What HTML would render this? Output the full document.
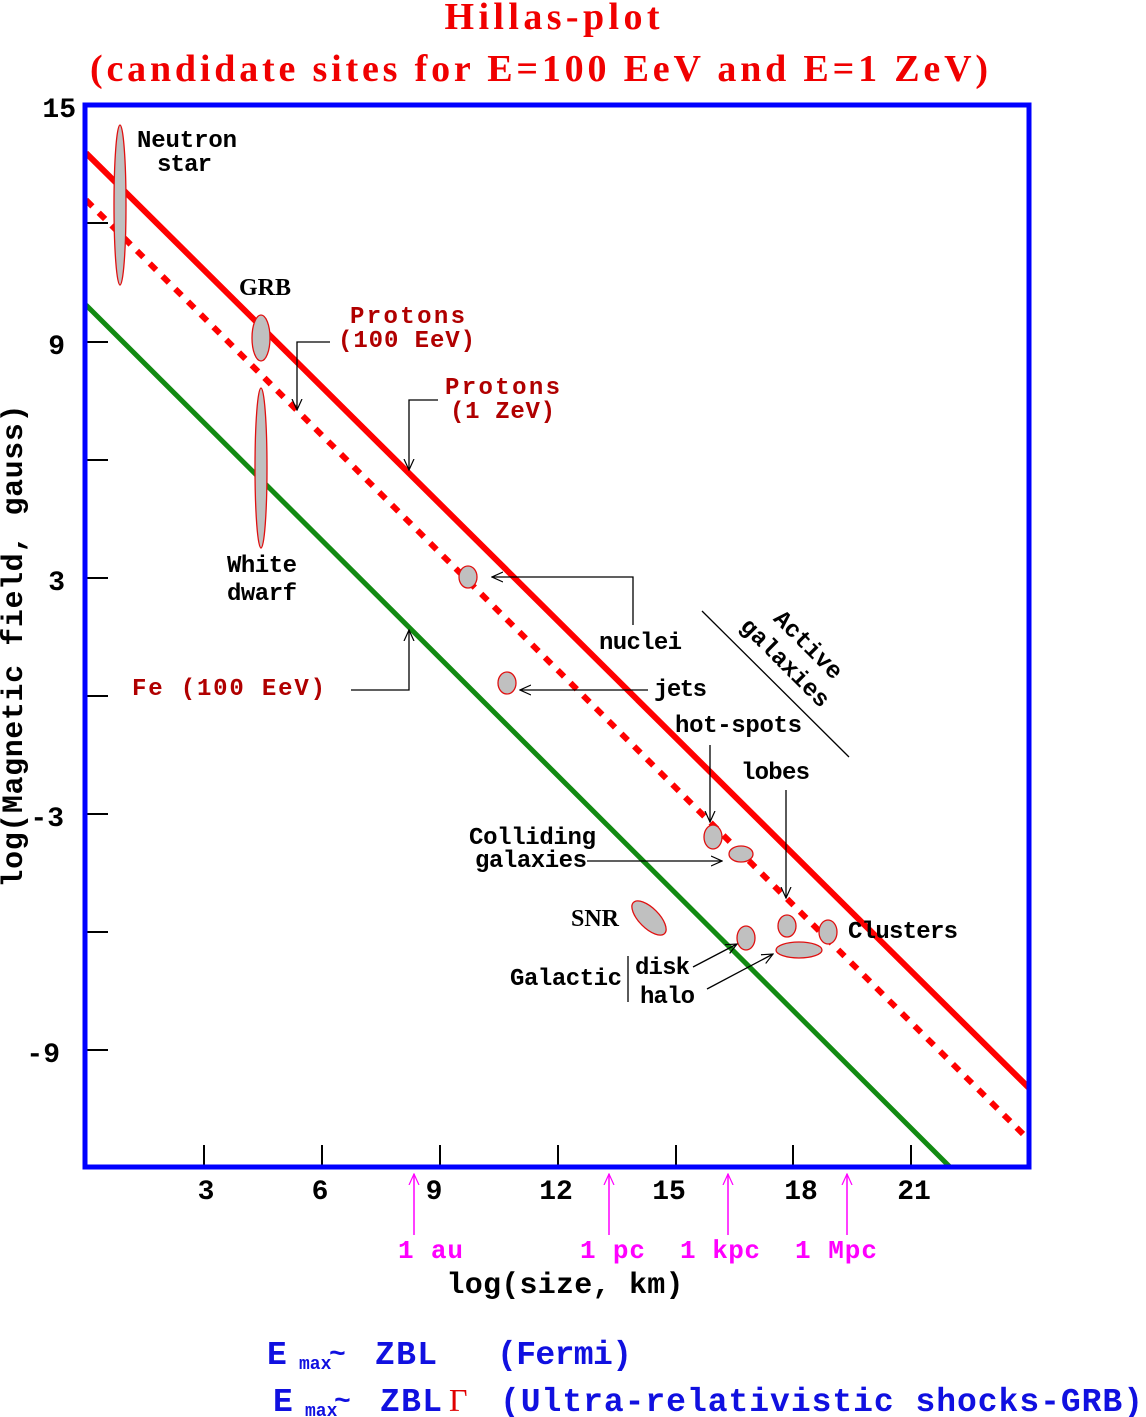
<!DOCTYPE html>
<html><head><meta charset="utf-8"><style>
html,body{margin:0;padding:0;background:#fff;}
svg{display:block}
.m{font-family:"Liberation Mono",monospace;font-weight:bold;font-size:24px;fill:#000}
.r{fill:#b00000}
.s{font-family:"Liberation Serif",serif;font-weight:bold}
</style></head><body>
<svg width="1146" height="1417" viewBox="0 0 1146 1417" xmlns="http://www.w3.org/2000/svg">
<defs>
<marker id="a" viewBox="0 0 12 12" refX="11" refY="6" markerWidth="12" markerHeight="12" markerUnits="userSpaceOnUse" orient="auto"><path d="M0,1 L11,6 L0,11" fill="none" stroke="#000" stroke-width="1.2"/></marker>
<marker id="am" viewBox="0 0 12 12" refX="11" refY="6" markerWidth="12" markerHeight="12" markerUnits="userSpaceOnUse" orient="auto"><path d="M0,1 L11,6 L0,11" fill="none" stroke="#ff00ff" stroke-width="1.2"/></marker>
<clipPath id="c"><rect x="85" y="105" width="944" height="1062"/></clipPath>
</defs>
<text x="552" y="29" text-anchor="middle" class="s" style="font-size:38px" fill="#f00000" textLength="215">Hillas-plot</text>
<text x="539" y="81" text-anchor="middle" class="s" style="font-size:38px" fill="#f00000" textLength="898">(candidate sites for E=100 EeV and E=1 ZeV)</text>

<g clip-path="url(#c)">
<line x1="86" y1="153" x2="1029" y2="1088" stroke="#f00" stroke-width="6"/>
<line x1="86" y1="200" x2="1029" y2="1140" stroke="#f00" stroke-width="6" stroke-dasharray="9,9"/>
<line x1="86" y1="305" x2="950" y2="1167" stroke="#128a12" stroke-width="5"/>
</g>
<g stroke="#000" stroke-width="2">
<line x1="87" y1="223" x2="108" y2="223"/><line x1="87" y1="342" x2="108" y2="342"/>
<line x1="87" y1="460" x2="108" y2="460"/><line x1="87" y1="578" x2="108" y2="578"/>
<line x1="87" y1="696" x2="108" y2="696"/><line x1="87" y1="814" x2="108" y2="814"/>
<line x1="87" y1="932" x2="108" y2="932"/><line x1="87" y1="1050" x2="108" y2="1050"/>
<line x1="204" y1="1145" x2="204" y2="1166"/><line x1="322" y1="1145" x2="322" y2="1166"/>
<line x1="440" y1="1145" x2="440" y2="1166"/><line x1="558" y1="1145" x2="558" y2="1166"/>
<line x1="676" y1="1145" x2="676" y2="1166"/><line x1="793" y1="1145" x2="793" y2="1166"/>
<line x1="911" y1="1145" x2="911" y2="1166"/>
</g>
<rect x="85" y="105" width="944" height="1062" fill="none" stroke="#0000ff" stroke-width="5"/>

<g fill="#c0c0c0" stroke="#e01010" stroke-width="1.3">
<ellipse cx="120" cy="205" rx="6" ry="80"/>
<ellipse cx="261" cy="338" rx="9" ry="23"/>
<ellipse cx="261" cy="468" rx="6" ry="80"/>
<ellipse cx="468" cy="577" rx="9" ry="11"/>
<ellipse cx="507" cy="683" rx="9" ry="11"/>
<ellipse cx="713" cy="837" rx="9" ry="12"/>
<ellipse cx="741" cy="854" rx="12" ry="8"/>
<ellipse cx="649" cy="918" rx="22" ry="10" transform="rotate(45 649 918)"/>
<ellipse cx="746" cy="938" rx="9" ry="12"/>
<ellipse cx="787" cy="926" rx="9" ry="11"/>
<ellipse cx="828" cy="932" rx="9" ry="12"/>
<ellipse cx="799" cy="950" rx="23" ry="8"/>
</g>

<g fill="none" stroke="#000" stroke-width="1.3">
<polyline points="330,342 297,342 297,410" marker-end="url(#a)"/>
<polyline points="438,400 409,400 409,470" marker-end="url(#a)"/>
<polyline points="351,690 409,690 409,630" marker-end="url(#a)"/>
<polyline points="633,625 633,577 492,577" marker-end="url(#a)"/>
<line x1="648" y1="690" x2="520" y2="690" marker-end="url(#a)"/>
<line x1="710" y1="745" x2="710" y2="822" marker-end="url(#a)"/>
<line x1="786" y1="790" x2="786" y2="898" marker-end="url(#a)"/>
<line x1="587" y1="861" x2="722" y2="861" marker-end="url(#a)"/>
<line x1="628" y1="956" x2="628" y2="1002"/>
<line x1="693" y1="967" x2="737" y2="944" marker-end="url(#a)"/>
<line x1="707" y1="989" x2="773" y2="954" marker-end="url(#a)"/>
<line x1="702" y1="611" x2="849" y2="757"/>
</g>

<text class="m" x="137" y="147" textLength="100">Neutron</text>
<text class="m" x="157" y="171" textLength="55">star</text>
<text class="s" x="239" y="295" style="font-size:24px">GRB</text>
<text class="m" x="227" y="572" textLength="70">White</text>
<text class="m" x="227" y="600" textLength="70">dwarf</text>
<text class="m r" x="350" y="323" textLength="115">Protons</text>
<text class="m r" x="338" y="347" textLength="137">(100 EeV)</text>
<text class="m r" x="445" y="394" textLength="115">Protons</text>
<text class="m r" x="450" y="418" textLength="105">(1 ZeV)</text>
<text class="m r" x="132" y="695" textLength="193">Fe (100 EeV)</text>
<text class="m" x="599" y="649" textLength="83">nuclei</text>
<text class="m" x="654" y="696" textLength="53">jets</text>
<text class="m" x="675" y="732" textLength="127">hot-spots</text>
<text class="m" x="741" y="779" textLength="69">lobes</text>
<text class="m" x="469" y="844" textLength="127">Colliding</text>
<text class="m" x="475" y="867" textLength="112">galaxies</text>
<text class="s" x="571" y="926" style="font-size:24px">SNR</text>
<text class="m" x="510" y="985" textLength="112">Galactic</text>
<text class="m" x="635" y="974" textLength="55">disk</text>
<text class="m" x="640" y="1003" textLength="55">halo</text>
<text class="m" x="848" y="938" textLength="110">Clusters</text>
<g transform="translate(803,650) rotate(45)"><text class="m" x="0" y="0" text-anchor="middle">Active</text></g>
<g transform="translate(780,668) rotate(45)"><text class="m" x="0" y="0" text-anchor="middle">galaxies</text></g>

<g class="m" style="font-size:28px">
<text x="76" y="117" text-anchor="end">15</text>
<text x="65" y="354" text-anchor="end">9</text>
<text x="65" y="590" text-anchor="end">3</text>
<text x="64" y="826" text-anchor="end">-3</text>
<text x="60" y="1062" text-anchor="end">-9</text>
<text x="206" y="1199" text-anchor="middle">3</text>
<text x="320" y="1199" text-anchor="middle">6</text>
<text x="434" y="1199" text-anchor="middle">9</text>
<text x="556" y="1199" text-anchor="middle">12</text>
<text x="669" y="1199" text-anchor="middle">15</text>
<text x="801" y="1199" text-anchor="middle">18</text>
<text x="914" y="1199" text-anchor="middle">21</text>
</g>
<text class="m" x="565" y="1293" text-anchor="middle" style="font-size:30px" textLength="237">log(size, km)</text>
<g transform="translate(22,646) rotate(-90)"><text class="m" x="0" y="0" text-anchor="middle" style="font-size:30px" textLength="483">log(Magnetic field, gauss)</text></g>

<g stroke="#ff00ff" stroke-width="1.5" fill="none">
<line x1="414" y1="1235" x2="414" y2="1174" marker-end="url(#am)"/>
<line x1="609" y1="1235" x2="609" y2="1174" marker-end="url(#am)"/>
<line x1="728" y1="1235" x2="728" y2="1174" marker-end="url(#am)"/>
<line x1="847" y1="1235" x2="847" y2="1174" marker-end="url(#am)"/>
</g>
<g class="m" style="font-size:26px;fill:#ff00ff">
<text x="398" y="1258" textLength="65">1 au</text>
<text x="580" y="1258" textLength="65">1 pc</text>
<text x="680" y="1258" textLength="80">1 kpc</text>
<text x="795" y="1258" textLength="82">1 Mpc</text>
</g>

<g class="m" style="font-size:33px;fill:#1010e0">
<text x="267" y="1364">E</text>
<text x="299" y="1369" style="font-size:18px">max</text>
<text x="329" y="1362" style="font-size:28px">~</text>
<text x="375" y="1364" textLength="62">ZBL</text>
<text x="497" y="1364" textLength="135">(Fermi)</text>
<text x="273" y="1411">E</text>
<text x="305" y="1416" style="font-size:18px">max</text>
<text x="334" y="1409" style="font-size:28px">~</text>
<text x="380" y="1411" textLength="62">ZBL</text>
<text x="500" y="1411" textLength="643">(Ultra-relativistic shocks-GRB)</text>
</g>
<text x="449" y="1411" font-family="Liberation Serif,serif" font-size="32" fill="#e00000">Γ</text>
</svg>
</body></html>
